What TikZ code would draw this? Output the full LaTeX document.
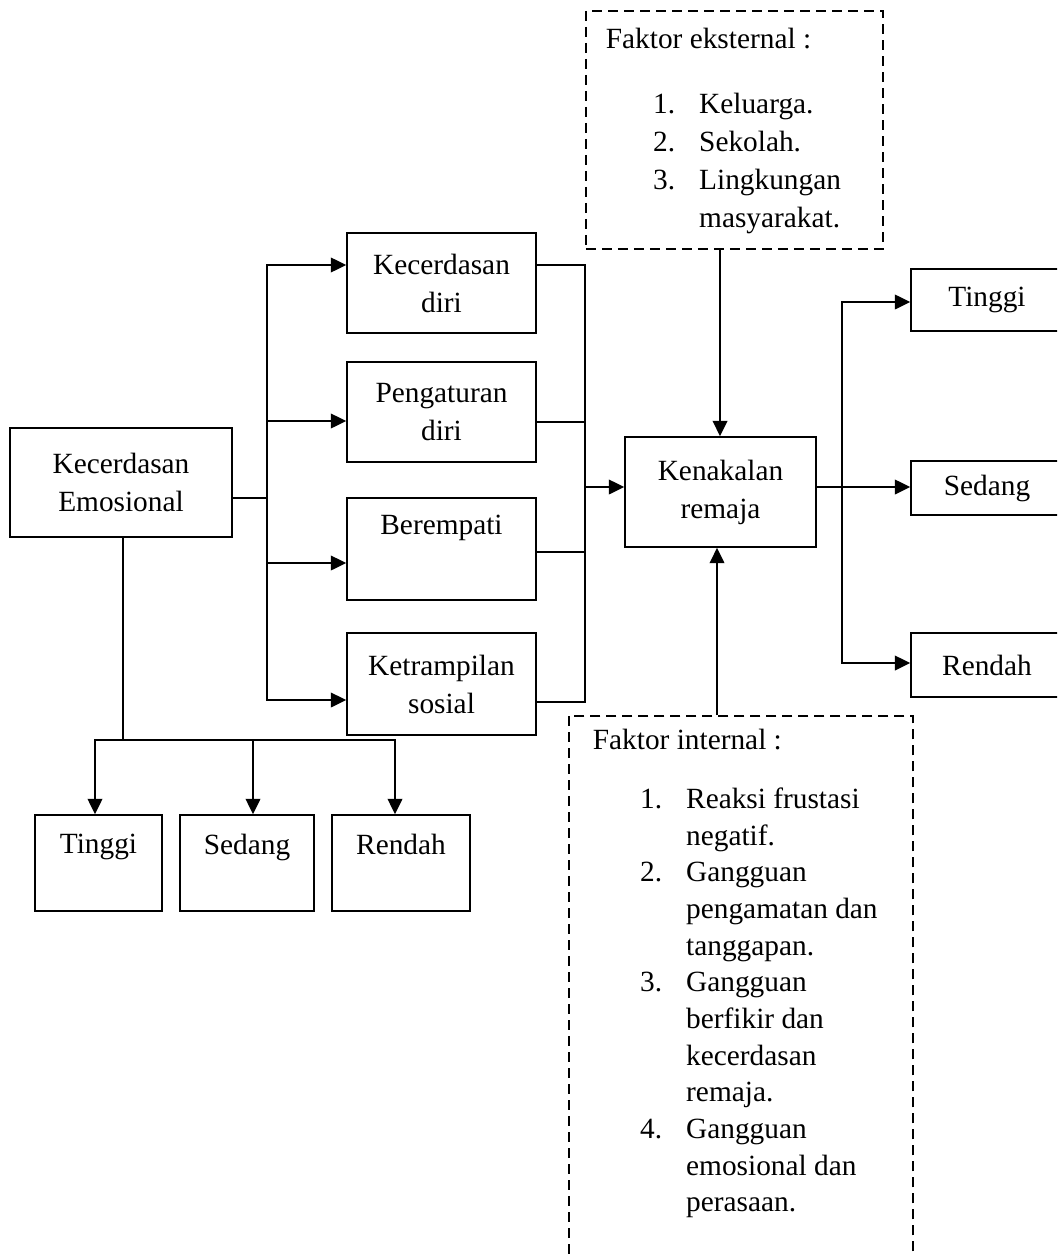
\documentclass[tikz,border=0pt]{standalone}
\usepackage{fontspec}
\setmainfont{Liberation Serif}
\usetikzlibrary{arrows.meta}

\newcommand{\butir}[2]{\hspace*{35.5pt}\makebox[34.5pt][l]{#1}#2}
\newcommand{\lanjut}{\hspace*{70pt}}

\begin{document}
\begin{tikzpicture}[
  x=0.75pt, y=-0.75pt,
  every node/.style={font=\fontsize{22}{28.5}\selectfont},
  kotak/.style={rectangle, draw, line width=1.3pt, align=center, inner sep=0pt},
  faktor/.style={rectangle, draw, dash pattern=on 7.5pt off 4.5pt,
                 line width=1.3pt},
  garis/.style={line width=1.4pt, line cap=rect},
  panah/.style={-{Triangle[length=11.5pt, width=11pt]}, line width=1.4pt}
]
  \useasboundingbox (0,0) rectangle (1057,1255);
  \clip (0,0) rectangle (1057,1255);

  % Kecerdasan emosional dan komponennya
  \node[kotak, minimum width=166.5pt, minimum height=81.75pt] (emo) at (121,482.5)
    {Kecerdasan\\Emosional};
  \node[kotak, minimum width=141.75pt, minimum height=75pt] (diri) at (441.5,283)
    {Kecerdasan\\diri};
  \node[kotak, minimum width=141.75pt, minimum height=75pt] (atur) at (441.5,412)
    {Pengaturan\\diri};
  \node[kotak, minimum width=141.75pt, minimum height=76.5pt] (empati) at (441.5,549)
    {Berempati\\\strut};
  \node[kotak, minimum width=141.75pt, minimum height=76.5pt] (sosial) at (441.5,684)
    {Ketrampilan\\sosial};

  % Kenakalan remaja
  \node[kotak, minimum width=143.25pt, minimum height=82.5pt] (kenakalan) at (720.5,492)
    {Kenakalan\\remaja};
  \node[kotak, minimum width=114pt, minimum height=46.5pt] (tinggiK) at (987,300) {Tinggi};
  \node[kotak, minimum width=114pt, minimum height=40.5pt] (sedangK) at (987,488) {Sedang};
  \node[kotak, minimum width=114pt, minimum height=48pt] (rendahK) at (987,665) {Rendah};

  % Tingkat kecerdasan emosional
  \node[kotak, minimum width=95.25pt, minimum height=72pt] (tinggiE) at (98.5,863) {Tinggi\\~};
  \node[kotak, minimum width=100.5pt, minimum height=72pt] (sedangE) at (247,863) {Sedang\\~};
  \node[kotak, minimum width=103.5pt, minimum height=72pt] (rendahE) at (401,863) {Rendah\\~};

  % Faktor eksternal dan internal
  \node[faktor, anchor=north west, inner xsep=15pt, inner ysep=12.8pt] (eksternal) at (585,10)
    {\begin{minipage}[t][152.9pt][t]{192.75pt}
      Faktor eksternal :\\[20.75pt]
      \butir{1.}{Keluarga.}\\
      \butir{2.}{Sekolah.}\\
      \butir{3.}{Lingkungan}\\
      \lanjut masyarakat.
    \end{minipage}};
  \node[faktor, anchor=north west, inner xsep=18pt, inner ysep=9.8pt] (internal) at (568,715)
    {\begin{minipage}[t][400pt][t]{222pt}
      \fontsize{22}{27.5}\selectfont
      Faktor internal :\\[17pt]
      \butir{1.}{Reaksi frustasi}\\
      \lanjut negatif.\\
      \butir{2.}{Gangguan}\\
      \lanjut pengamatan dan\\
      \lanjut tanggapan.\\
      \butir{3.}{Gangguan}\\
      \lanjut berfikir dan\\
      \lanjut kecerdasan\\
      \lanjut remaja.\\
      \butir{4.}{Gangguan}\\
      \lanjut emosional dan\\
      \lanjut perasaan.
    \end{minipage}};

  % ke empat komponen
  \coordinate (bagi) at (267,498);
  \draw[garis] (emo.east |- bagi) -- (bagi);
  \draw[garis] (267,265) -- (267,700);
  \foreach \n/\y in {diri/265, atur/421, empati/563, sosial/700}
    \draw[panah] (267,\y) -- (\n.west |- 0,\y);

  % ke kenakalan remaja
  \foreach \n/\y in {diri/265, atur/422, empati/552, sosial/702}
    \draw[garis] (\n.east |- 0,\y) -- (585,\y);
  \draw[garis] (585,265) -- (585,702);
  \draw[panah] (585,487) -- (kenakalan.west |- 0,487);

  % pengaruh faktor
  \draw[panah] (eksternal.south -| 720,0) -- (kenakalan.north -| 720,0);
  \draw[panah] (internal.north -| 717,0) -- (kenakalan.south -| 717,0);

  % tingkat kenakalan
  \draw[panah] (kenakalan.east |- 0,487) -- (sedangK.west |- 0,487);
  \draw[garis] (842,302) -- (842,663);
  \draw[panah] (842,302) -- (tinggiK.west |- 0,302);
  \draw[panah] (842,663) -- (rendahK.west |- 0,663);

  % tingkat kecerdasan emosional
  \draw[garis] (emo.south -| 123,0) -- (123,740);
  \draw[garis] (95,740) -- (395,740);
  \foreach \n/\x in {tinggiE/95, sedangE/253, rendahE/395}
    \draw[panah] (\x,740) -- (\n.north -| \x,0);
\end{tikzpicture}
\end{document}
